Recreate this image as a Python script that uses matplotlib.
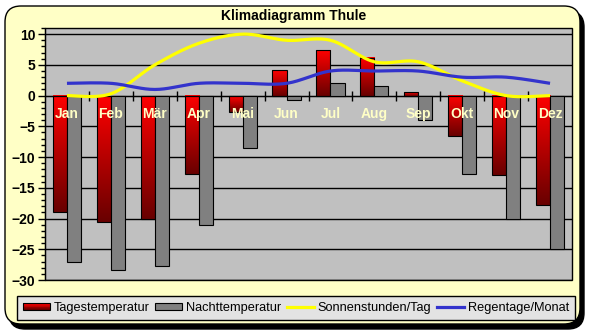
import numpy as np
import matplotlib
matplotlib.use("Agg")
import matplotlib.pyplot as plt
from matplotlib.patches import FancyBboxPatch, Rectangle
from matplotlib.lines import Line2D
from matplotlib.colors import LinearSegmentedColormap
from matplotlib.transforms import IdentityTransform
from matplotlib.legend_handler import HandlerBase
from matplotlib.ticker import MultipleLocator

plt.rcParams['font.family'] = ['Liberation Sans', 'DejaVu Sans']

months = ["Jan", "Feb", "Mär", "Apr", "Mai", "Jun", "Jul", "Aug", "Sep", "Okt", "Nov", "Dez"]
tages = [-19, -20.5, -20, -12.8, -2.6, 4.2, 7.4, 6.2, 0.6, -6.6, -12.9, -17.8]
nacht = [-27, -28.3, -27.7, -21, -8.5, -0.7, 2.1, 1.6, -3.9, -12.7, -20, -25]
sonne = [0, 0.3, 5, 8.5, 10, 9, 9, 5.5, 5.5, 2.4, 0, 0]
regen = [2, 2, 1, 2, 2, 2, 4, 4, 4, 3, 3, 2]
series_names = ["Tagestemperatur", "Nachttemperatur", "Sonnenstunden/Tag", "Regentage/Monat"]
title = "Klimadiagramm Thule"

W, H = 589, 336
fig = plt.figure(figsize=(W / 100, H / 100), dpi=100)
fig.patch.set_facecolor('white')

# frame with shadow (pixel coords, origin bottom-left)
fx0, fx1, fyt, fyb = 5, 580, 6, 324
shadow = FancyBboxPatch((fx0 + 4, H - fyb - 5), fx1 - fx0, fyb - fyt,
                        boxstyle="round,pad=0,rounding_size=16",
                        transform=IdentityTransform(), facecolor='black',
                        edgecolor='black', zorder=0)
frame = FancyBboxPatch((fx0, H - fyb), fx1 - fx0, fyb - fyt,
                       boxstyle="round,pad=0,rounding_size=16",
                       transform=IdentityTransform(), facecolor='#FFFFC6',
                       edgecolor='black', linewidth=1, zorder=0.5)
fig.patches.extend([shadow, frame])

ax = fig.add_axes([45 / W, (H - 280) / H, (572 - 45) / W, (280 - 28) / H])
ax.set_zorder(2)
ax.patch.set_facecolor('#C0C0C0')
ax.patch.set_edgecolor('black')
ax.patch.set_linewidth(1)

x = np.arange(len(months))
bw = 0.32
red_cmap = LinearSegmentedColormap.from_list('r', ['#680000', '#FF0000'])
grad = np.linspace(0, 1, 256).reshape(-1, 1)

red_bars = ax.bar(x - bw / 2, tages, bw, facecolor='none', edgecolor='black', linewidth=0.8, zorder=3)
for r in red_bars:
    x0 = r.get_x()
    y0, y1 = sorted([r.get_y(), r.get_y() + r.get_height()])
    ax.imshow(grad, extent=(x0, x0 + r.get_width(), y0, y1), origin='lower',
              aspect='auto', cmap=red_cmap, zorder=2.5, interpolation='bilinear')
ax.bar(x + bw / 2, nacht, bw, facecolor='#808080', edgecolor='black', linewidth=0.8, zorder=3)


def smooth(xs, ys, n=30):
    xs = np.asarray(xs, float)
    ys = np.asarray(ys, float)
    P = np.column_stack([xs, ys])
    P = np.vstack([P[0], P, P[-1]])
    out = []
    for i in range(1, len(P) - 2):
        p0, p1, p2, p3 = P[i - 1], P[i], P[i + 1], P[i + 2]
        b1 = p1 + (p2 - p0) / 6
        b2 = p2 - (p3 - p1) / 6
        t = np.linspace(0, 1, n)[:, None]
        seg = ((1 - t) ** 3) * p1 + 3 * ((1 - t) ** 2) * t * b1 + 3 * (1 - t) * t ** 2 * b2 + t ** 3 * p2
        out.append(seg)
    out = np.vstack(out)
    return out[:, 0], out[:, 1]


sx, sy = smooth(x, sonne)
ax.plot(sx, sy, color='#FFFF00', lw=2.3, zorder=4, solid_capstyle='butt')
rx, ry = smooth(x, regen)
ax.plot(rx, ry, color='#3333CC', lw=2.3, zorder=4, solid_capstyle='butt')

for i, m in enumerate(months):
    ax.text(i, -3.05, m, ha='center', va='center', fontsize=10, fontweight='bold',
            color='#FFFFC6', zorder=5)

ax.set_xlim(-0.5, 11.5)
ax.set_ylim(-30, 11)
ax.set_yticks(np.arange(-30, 11, 5))
ax.yaxis.set_minor_locator(MultipleLocator(1))
ax.set_xticks(np.arange(0.5, 11, 1))
ax.set_xticklabels([])
ax.tick_params(axis='x', direction='inout', length=7, width=1, color='black')
ax.tick_params(axis='y', which='major', direction='out', length=5, width=1, labelsize=10, pad=2)
ax.tick_params(axis='y', which='minor', direction='out', length=3, width=1)
for lab in ax.get_yticklabels():
    lab.set_fontweight('bold')
ax.spines['bottom'].set_position(('data', 0))
ax.spines['top'].set_visible(False)
ax.spines['right'].set_visible(False)
ax.yaxis.grid(True, which='major', color='black', linewidth=1)
ax.set_axisbelow(True)

fig.text(294 / W, (H - 16) / H, title, ha='center', va='center', fontsize=10, fontweight='bold')


class GradHandler(HandlerBase):
    def create_artists(self, legend, orig_handle, xdescent, ydescent, width, height, fontsize, trans):
        arts = []
        n = 8
        hh = height * 0.75
        y0 = -ydescent + (height - hh) / 2
        for k in range(n):
            c = red_cmap(1 - k / (n - 1))
            arts.append(Rectangle((-xdescent, y0 + hh - (k + 1) * hh / n), width, hh / n,
                                  facecolor=c, edgecolor='none', transform=trans))
        arts.append(Rectangle((-xdescent, y0), width, hh, facecolor='none',
                              edgecolor='black', linewidth=0.8, transform=trans))
        return arts


class BoxHandler(HandlerBase):
    def create_artists(self, legend, orig_handle, xdescent, ydescent, width, height, fontsize, trans):
        hh = height * 0.75
        y0 = -ydescent + (height - hh) / 2
        return [Rectangle((-xdescent, y0), width, hh, facecolor='#808080',
                          edgecolor='black', linewidth=0.8, transform=trans)]


h_red = Rectangle((0, 0), 1, 1)
h_grey = Rectangle((0, 0), 1, 1, facecolor='#808080')
h_y = Line2D([], [], color='#FFFF00', lw=2.3)
h_b = Line2D([], [], color='#3333CC', lw=2.3)
leg = fig.legend([h_red, h_grey, h_y, h_b], series_names,
                 handler_map={h_red: GradHandler(), h_grey: BoxHandler()},
                 loc='center', bbox_to_anchor=(296 / W, (H - 308) / H), ncol=4,
                 fontsize=9.2, frameon=True, fancybox=False, edgecolor='black',
                 facecolor='#E3E3E3', framealpha=1, handlelength=2.1,
                 handletextpad=0.3, columnspacing=0.45, borderpad=0.5,
                 borderaxespad=0)
leg.get_frame().set_linewidth(1)
leg.set_zorder(3)

fig.savefig('out.png', dpi=100)
